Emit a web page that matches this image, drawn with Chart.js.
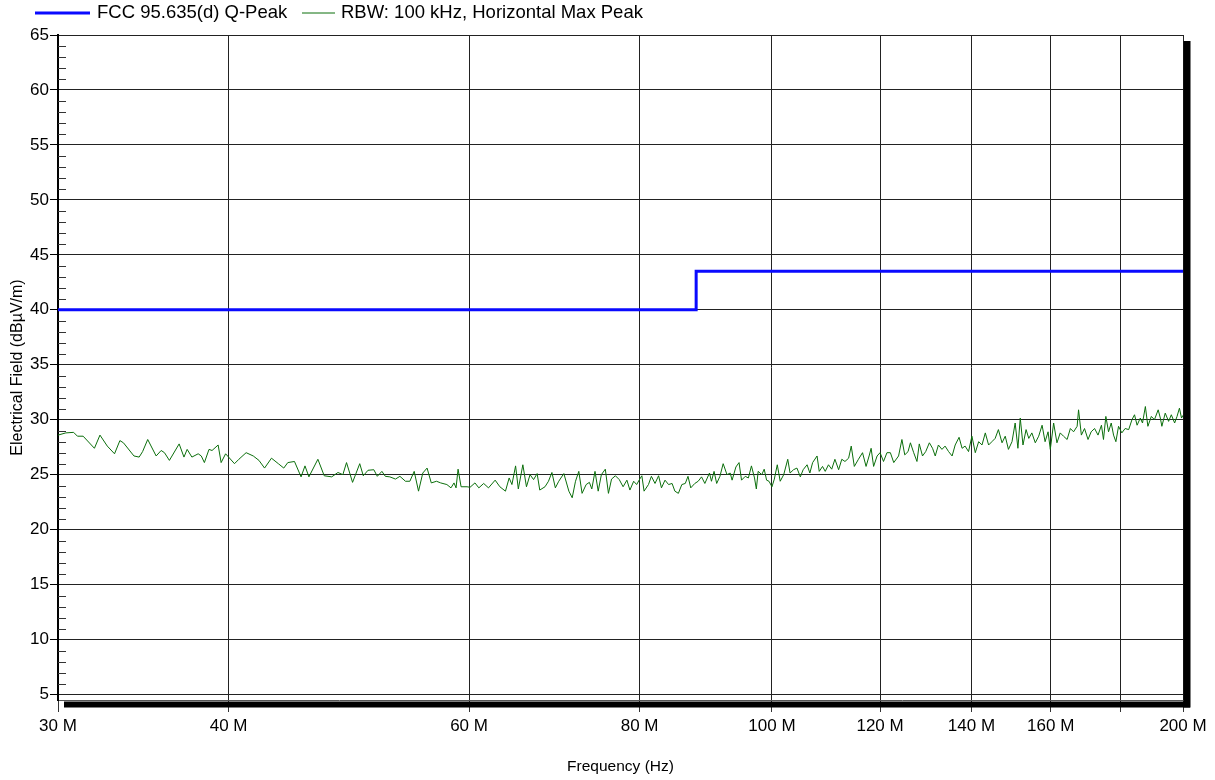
<!DOCTYPE html>
<html>
<head>
<meta charset="utf-8">
<script src="https://cdn.jsdelivr.net/npm/chart.js@4"></script>
<style>
  body { margin: 0; background: #fff; }
  #wrap { width: 1215px; height: 780px; position: relative; }
</style>
</head>
<body>
<div id="wrap"><canvas id="emiChart"></canvas></div>
<script>
// limit line (MHz, dBuV/m)
const limitFreqs = [30, 88, 88, 200];
const limitLevels = [40, 40, 43.5, 43.5];

const traceFreqs = [
  30.0, 30.4, 30.8, 31.0, 31.3, 31.9, 32.2, 32.6, 33.0, 33.3, 33.5, 34.1, 34.4, 34.6, 34.9, 35.4, 35.7, 35.9, 36.2, 36.8,
  37.1, 37.3, 37.6, 38.0, 38.2, 38.4, 38.7, 38.9, 39.3, 39.5, 39.8, 40.0, 40.4, 40.7, 41.2, 41.7, 42.1, 42.5, 43.0, 43.5,
  43.9, 44.2, 44.7, 45.2, 45.5, 45.8, 46.5, 47.0, 47.6, 48.1, 48.5, 48.8, 49.3, 49.9, 50.2, 50.6, 51.1, 51.4, 51.8, 52.1,
  52.5, 53.0, 53.4, 53.9, 54.3, 54.7, 55.1, 55.5, 55.9, 56.3, 56.8, 57.2, 57.8, 58.2, 58.5, 58.7, 58.9, 59.2, 59.8, 60.1,
  60.6, 61.0, 61.5, 62.0, 62.7, 63.2, 63.8, 64.2, 64.5, 64.9, 65.2, 65.7, 66.1, 66.5, 66.9, 67.3, 67.6, 68.2, 68.6, 69.0,
  69.4, 69.8, 70.4, 71.0, 71.4, 71.8, 72.2, 72.6, 73.1, 73.5, 73.8, 74.2, 74.6, 75.0, 75.5, 75.9, 76.3, 76.8, 77.3, 77.8,
  78.3, 78.7, 79.2, 79.6, 80.1, 80.3, 80.6, 81.2, 81.6, 82.1, 82.6, 83.0, 83.5, 84.0, 84.5, 84.9, 85.4, 85.9, 86.4, 86.8,
  87.2, 87.8, 88.3, 88.8, 89.3, 90.0, 90.3, 90.7, 91.1, 91.6, 92.1, 92.7, 93.2, 93.5, 94.1, 94.6, 95.0, 95.6, 96.1, 96.6,
  97.1, 97.4, 97.7, 98.3, 98.7, 99.1, 99.5, 100.0, 100.4, 100.9, 101.4, 102.0, 102.7, 103.1, 103.7, 104.3, 104.9, 105.4, 106.1, 106.6,
  107.1, 107.9, 108.3, 108.9, 109.4, 110.0, 110.6, 111.2, 111.9, 112.5, 113.1, 113.8, 114.3, 114.9, 115.7, 116.5, 117.2, 117.8, 118.2, 118.7,
  119.4, 120.0, 120.7, 121.4, 122.1, 122.8, 123.8, 124.5, 125.1, 125.8, 126.3, 127.0, 127.7, 128.2, 128.9, 129.6, 130.4, 131.1, 131.7, 132.4,
  133.2, 133.9, 134.7, 135.5, 136.2, 137.1, 137.8, 138.5, 139.3, 140.1, 140.9, 141.7, 142.5, 143.3, 144.1, 144.9, 145.7, 146.5, 147.4, 148.2,
  149.0, 149.9, 150.7, 151.4, 152.0, 152.7, 153.5, 154.2, 155.0, 155.9, 156.8, 157.7, 158.5, 159.3, 159.9, 160.8, 161.7, 162.6, 163.5, 164.5,
  165.4, 166.3, 167.3, 167.7, 168.5, 169.4, 170.4, 171.3, 172.3, 173.3, 174.3, 174.9, 175.6, 176.4, 177.2, 177.9, 178.6, 179.4, 180.4, 181.4,
  182.5, 183.5, 184.3, 185.1, 186.1, 186.8, 187.7, 188.5, 189.6, 190.6, 191.8, 192.5, 193.0, 194.1, 195.2, 196.1, 197.2, 198.0, 198.8, 199.5,
  200.0
];
const traceLevels = [
  28.6, 28.8, 28.85, 28.5, 28.5, 27.4, 28.6, 27.6, 26.9, 28.1, 27.9, 26.7, 26.6, 27.1, 28.2, 26.7, 27.2, 27.0, 26.3, 27.8,
  26.6, 27.3, 26.6, 26.9, 26.7, 26.1, 27.3, 27.2, 27.7, 26.1, 26.9, 26.6, 26.0, 26.4, 27.0, 26.7, 26.3, 25.6, 26.5, 26.0,
  25.6, 26.1, 26.2, 24.8, 25.8, 24.8, 26.4, 24.9, 24.8, 25.2, 25.0, 26.1, 24.3, 26.0, 24.9, 25.4, 25.45, 24.85, 25.3, 24.85,
  24.8, 24.6, 24.85, 24.4, 24.4, 25.3, 23.5, 25.15, 25.6, 24.25, 24.4, 24.25, 24.1, 23.8, 24.25, 23.8, 25.5, 23.9, 23.9, 23.85,
  24.25, 23.8, 24.2, 23.8, 24.5, 23.9, 23.5, 24.7, 24.1, 25.8, 23.7, 25.9, 23.9, 25.0, 24.55, 25.1, 23.6, 23.9, 24.4, 25.2,
  23.8, 24.4, 25.1, 23.5, 22.9, 24.4, 25.3, 23.3, 24.1, 24.3, 23.7, 25.3, 23.5, 25.0, 25.5, 23.3, 24.6, 24.9, 24.55, 23.9,
  24.5, 23.6, 24.4, 24.1, 24.7, 24.9, 23.5, 24.1, 24.85, 24.2, 24.9, 23.8, 24.5, 24.1, 24.2, 23.5, 23.3, 24.1, 24.2, 24.85,
  23.8, 24.2, 24.4, 24.8, 24.2, 25.15, 24.4, 25.3, 24.2, 24.85, 26.0, 25.0, 25.15, 24.5, 25.7, 26.1, 24.5, 24.85, 24.7, 25.8,
  24.7, 23.7, 25.3, 25.0, 25.5, 24.5, 24.4, 23.9, 24.6, 25.9, 24.4, 25.0, 26.4, 25.15, 25.45, 25.6, 24.8, 25.45, 25.9, 25.15,
  26.1, 26.7, 25.3, 25.75, 25.3, 25.9, 25.5, 26.4, 25.45, 26.4, 26.2, 26.5, 27.6, 25.75, 26.4, 27.0, 25.75, 26.7, 27.4, 25.75,
  26.7, 27.0, 26.2, 27.0, 27.0, 26.1, 26.7, 28.2, 26.8, 27.1, 27.9, 27.0, 26.2, 27.8, 26.7, 27.1, 27.9, 27.4, 26.7, 27.7,
  27.3, 27.6, 27.1, 26.7, 27.7, 28.4, 27.4, 27.6, 27.1, 28.5, 27.0, 28.0, 27.7, 28.8, 27.7, 28.0, 28.3, 29.1, 27.9, 28.5,
  27.3, 28.0, 29.7, 27.4, 30.15, 27.7, 29.1, 28.3, 28.8, 27.9, 28.5, 29.5, 28.0, 28.9, 27.3, 29.7, 27.9, 28.8, 28.5, 28.2,
  29.2, 28.9, 29.4, 30.9, 28.6, 29.2, 28.2, 28.9, 29.2, 28.6, 29.5, 28.2, 30.3, 28.9, 29.7, 28.6, 28.0, 29.4, 28.8, 29.2,
  29.1, 30.0, 30.45, 29.5, 30.15, 29.7, 31.2, 29.4, 30.3, 30.0, 30.9, 30.15, 29.4, 30.6, 29.85, 30.45, 29.7, 30.3, 31.05, 30.15,
  30.4
];

const xTickValues = [30, 40, 60, 80, 100, 120, 140, 160, 180, 200];
const xTickLabels = ['30 M', '40 M', '60 M', '80 M', '100 M', '120 M', '140 M', '160 M', '', '200 M'];
const yTickValues = [5, 10, 15, 20, 25, 30, 35, 40, 45, 50, 55, 60, 65];
const yMinorStep = 1;

const FONT = "'Liberation Sans', Arial, sans-serif";
Chart.defaults.font.family = FONT;
Chart.defaults.color = '#000';

function pairs(xs, ys) {
  return xs.map((x, i) => ({ x: x, y: ys[i] }));
}

// legend, minor y ticks and the drop shadow of the plot frame
const decorPlugin = {
  id: 'decor',
  afterDraw(chart) {
    const ctx = chart.ctx;
    const a = chart.chartArea;
    const ys = chart.scales.y;
    ctx.save();

    // minor ticks inside the left axis
    ctx.strokeStyle = '#333';
    ctx.lineWidth = 1;
    for (let v = Math.ceil(ys.min); v <= ys.max; v += yMinorStep) {
      if (v % 5 === 0) continue;
      const py = Math.round(ys.getPixelForValue(v)) + 0.5;
      ctx.beginPath();
      ctx.moveTo(a.left, py);
      ctx.lineTo(a.left + 8, py);
      ctx.stroke();
    }

    // shadow
    ctx.fillStyle = '#000';
    ctx.fillRect(a.left + 6, a.bottom + 1.5, a.right - a.left + 1, 6);
    ctx.fillRect(a.right + 0.5, a.top + 6, 7, a.bottom - a.top + 1.5);

    // legend
    const items = [
      { ds: chart.data.datasets[0], x0: 35, x1: 90, tx: 97 },
      { ds: chart.data.datasets[1], x0: 302, x1: 335, tx: 341 }
    ];
    ctx.font = '18.5px ' + FONT;
    ctx.textBaseline = 'middle';
    ctx.fillStyle = '#000';
    items.forEach(it => {
      ctx.strokeStyle = it.ds.borderColor;
      ctx.lineWidth = it.ds.borderWidth;
      ctx.beginPath();
      ctx.moveTo(it.x0, 13);
      ctx.lineTo(it.x1, 13);
      ctx.stroke();
      ctx.fillText(it.ds.label, it.tx, 13);
    });
    ctx.restore();
  }
};

new Chart(document.getElementById('emiChart'), {
  type: 'line',
  data: {
    datasets: [
      {
        label: 'FCC 95.635(d) Q-Peak',
        data: pairs(limitFreqs, limitLevels),
        borderColor: '#0a0aff',
        borderWidth: 3,
        pointRadius: 0,
        tension: 0
      },
      {
        label: 'RBW: 100 kHz, Horizontal Max Peak',
        data: pairs(traceFreqs, traceLevels),
        borderColor: '#0b6e0b',
        borderWidth: 1,
        pointRadius: 0,
        tension: 0
      }
    ]
  },
  options: {
    responsive: true,
    maintainAspectRatio: false,
    animation: false,
    layout: { padding: { top: 35, right: 32, bottom: 0, left: 0 } },
    plugins: {
      legend: { display: false },
      tooltip: { enabled: false }
    },
    scales: {
      x: {
        type: 'logarithmic',
        min: 30,
        max: 200,
        afterBuildTicks(scale) {
          scale.ticks = xTickValues.map(v => ({ value: v }));
        },
        afterFit(scale) { scale.height = 80; },
        ticks: {
          autoSkip: false,
          maxRotation: 0,
          padding: 4,
          font: { size: 17 },
          callback: (v, i) => xTickLabels[i]
        },
        grid: { color: '#222', lineWidth: 1, tickLength: 12, tickColor: '#333' },
        border: { color: '#555', width: 1 },
        title: {
          display: true,
          text: 'Frequency (Hz)',
          font: { size: 15.5 },
          padding: { top: 0, bottom: 4 }
        }
      },
      y: {
        min: 4.5,
        max: 65,
        afterBuildTicks(scale) {
          scale.ticks = yTickValues.map(v => ({ value: v }));
        },
        afterFit(scale) { scale.width = 58; },
        ticks: { padding: 1, font: { size: 17 } },
        grid: { color: '#222', lineWidth: 1, tickLength: 8, tickColor: '#000' },
        border: { color: '#000', width: 2 },
        title: {
          display: true,
          text: 'Electrical Field (dBµV/m)',
          font: { size: 16 },
          padding: { top: 8, bottom: 0 }
        }
      }
    }
  },
  plugins: [decorPlugin]
});
</script>
</body>
</html>
